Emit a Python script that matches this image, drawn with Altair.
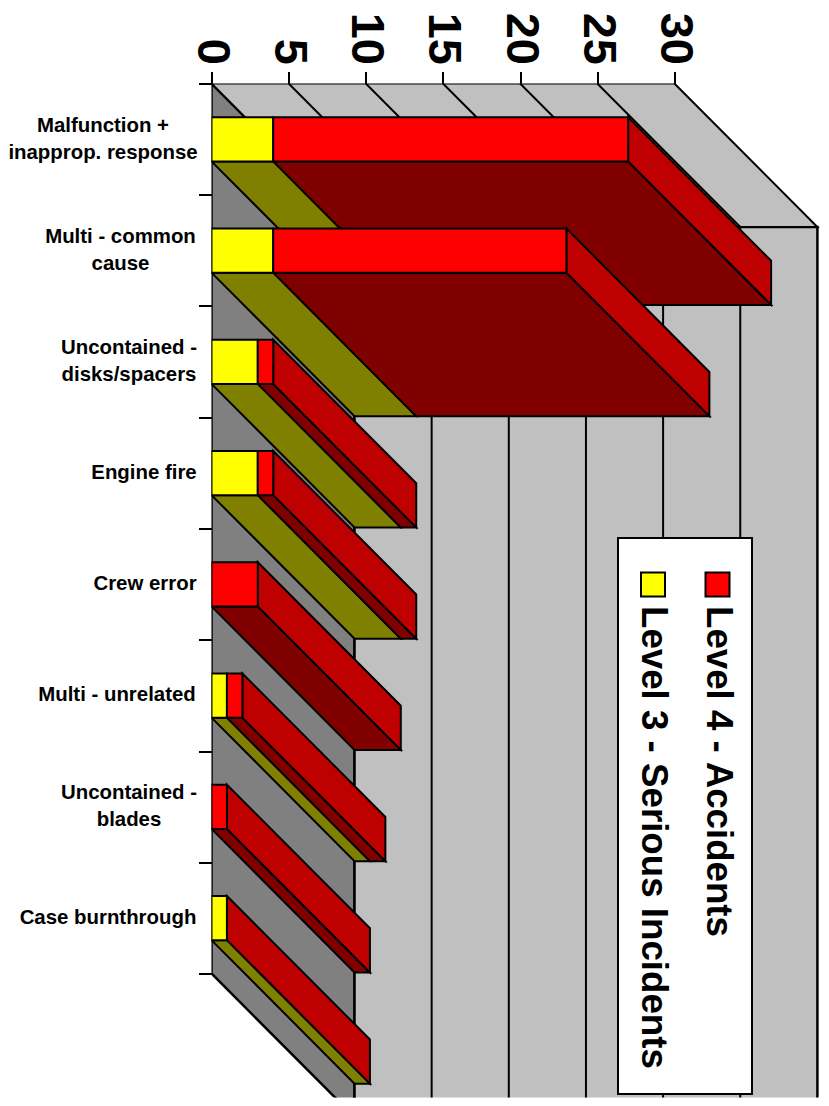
import altair as alt
import pandas as pd

categories = ["Malfunction +\ninapprop. response", "Multi - common\ncause", "Uncontained -\ndisks/spacers",
              "Engine fire", "Crew error", "Multi - unrelated", "Uncontained -\nblades", "Case burnthrough"]
level3 = [4, 4, 3, 3, 0, 1, 0, 1]
level4 = [23, 19, 1, 1, 3, 1, 1, 0]
x_ticks = [0, 5, 10, 15, 20, 25, 30]
legend_labels = ["Level 4 - Accidents", "Level 3 - Serious Incidents"]
label_centres = [103, 120.5, 129, 144, 145, 117, 129, 108]

X0, Y0 = 211.5, 83.5
PX, PY = 15.43, 111.25
W, H = 609, 1014
DX, DY = 143 / PX, 143.5 / PY
XMAX, YMAX = W / PX, H / PY
XAXIS = 30
NROW = len(categories)
GAP = 0.303
BARH = 0.397
FONT = "Liberation Sans"
BLACK = "#000000"
SW = 2
LINE_H = 27

xs = alt.Scale(domain=[0, XMAX], nice=False, zero=False)
ys = alt.Scale(domain=[0, YMAX], nice=False, zero=False, reverse=True)
XAX = alt.Axis(orient="top", values=x_ticks, domain=False, grid=False, labelAngle=90,
               labelAlign="right", labelBaseline="middle", labelFont=FONT,
               labelFontWeight="bold", labelFontSize=47, labelColor=BLACK, labelPadding=7,
               tickSize=12, tickWidth=SW, tickColor=BLACK, labelOverlap=False, title=None)
YAX = alt.Axis(orient="left", values=list(range(NROW + 1)), domain=False, grid=False,
               labels=False, tickSize=13, tickWidth=SW, tickColor=BLACK, title=None)

def X(f):
    return alt.X(f, type="quantitative", scale=xs, axis=XAX)

def Y(f):
    return alt.Y(f, type="quantitative", scale=ys, axis=YAX)

# walls
left_wall = pd.DataFrame({"x": [0, DX], "y": [0, DY], "y2": [NROW, NROW + DY]})
top_wall = pd.DataFrame({"y": [0, DY], "x": [0, DX], "x2": [XAXIS, XAXIS + DX]})
back_wall = pd.DataFrame({"x": [DX], "x2": [XAXIS + DX], "y": [DY], "y2": [YMAX + 1]})
grid_rows = []
for v in x_ticks[1:-1]:
    grid_rows += [{"v": v, "k": 0, "x": v, "y": 0}, {"v": v, "k": 1, "x": v + DX, "y": DY},
                  {"v": v, "k": 2, "x": v + DX, "y": YMAX + 1}]
grid = pd.DataFrame(grid_rows)

# bars
floors, sides, fronts = [], [], []
for i, (a, b) in enumerate(zip(level3, level4)):
    top, bot = i + GAP, i + GAP + BARH
    total = a + b
    for name, start, val, fc, fl in [("l3", 0, a, "#ffff00", "#808000"), ("l4", a, b, "#ff0000", "#800000")]:
        if val <= 0:
            continue
        fronts.append({"x": start, "x2": start + val, "y": top, "y2": bot, "fill": fc})
        for t in (0, 1):
            floors.append({"id": f"{i}{name}", "y": bot + t * DY, "x": start + t * DX,
                           "x2": start + val + t * DX, "fill": fl})
    for t in (0, 1):
        sides.append({"id": i, "x": total + t * DX, "y": top + t * DY, "y2": bot + t * DY, "fill": "#bf0000"})
floors, sides, fronts = pd.DataFrame(floors), pd.DataFrame(sides), pd.DataFrame(fronts)

labels = pd.DataFrame({
    "label": categories,
    "y": [i + 0.5 - c.count("\n") * LINE_H / 2 / PY for i, c in enumerate(categories)],
    "x": [(c - X0) / PX for c in label_centres],
})

wall_l = alt.Chart(left_wall).mark_area(orient="vertical", fill="#808080", stroke=BLACK, strokeWidth=SW + 0.5,
                                        clip=True, opacity=1).encode(
    x=X("x"), y=Y("y"), y2="y2")
wall_b = alt.Chart(back_wall).mark_rect(fill="#c0c0c0", stroke=BLACK, strokeWidth=SW + 0.5, clip=True).encode(
    x=X("x"), x2="x2", y=Y("y"), y2="y2")
wall_t = alt.Chart(top_wall).mark_area(orient="horizontal", fill="#c0c0c0", stroke=BLACK, strokeWidth=SW,
                                       clip=True, opacity=1).encode(
    x=X("x"), x2="x2", y=Y("y"))
grid_l = alt.Chart(grid).mark_line(color=BLACK, strokeWidth=SW, clip=True).encode(
    x=X("x"), y=Y("y"), detail="v:N", order="k:Q")

floor_l = alt.Chart(floors).mark_area(orient="horizontal", stroke=BLACK, strokeWidth=SW, opacity=1, clip=True).encode(
    x=X("x"), x2="x2", y=Y("y"), detail="id:N", color=alt.Color("fill:N", scale=None))
side_l = alt.Chart(sides).mark_area(orient="vertical", stroke=BLACK, strokeWidth=SW, opacity=1, clip=True).encode(
    x=X("x"), y=Y("y"), y2="y2", detail="id:N", color=alt.Color("fill:N", scale=None))
front_l = alt.Chart(fronts).mark_rect(stroke=BLACK, strokeWidth=SW, opacity=1, clip=True).encode(
    x=X("x"), x2="x2", y=Y("y"), y2="y2", color=alt.Color("fill:N", scale=None))

text_l = alt.Chart(labels).mark_text(font=FONT, fontWeight="bold", fontSize=20.4, lineHeight=LINE_H, align="center",
                                     baseline="middle", lineBreak="\n", color=BLACK).encode(
    x=X("x"), y=Y("y"), text="label:N")

# legend
one = pd.DataFrame({"a": [0]})
def px(v):
    return alt.value(v - X0)
def py(v):
    return alt.value(v - Y0)

leg = [alt.Chart(one).mark_rect(fill="#ffffff", stroke=BLACK, strokeWidth=SW).encode(
    x=px(618), x2=px(752), y=py(538), y2=py(1094))]
for lab, col, sx, tx in [(legend_labels[0], "#ff0000", 705.5, 718), (legend_labels[1], "#ffff00", 641, 653)]:
    leg.append(alt.Chart(one).mark_rect(fill=col, stroke=BLACK, strokeWidth=SW).encode(
        x=px(sx), x2=px(sx + 24), y=py(572.5), y2=py(596.5)))
    leg.append(alt.Chart(pd.DataFrame({"t": [lab]})).mark_text(
        font=FONT, fontWeight="bold", fontSize=36.7, angle=90, align="left", baseline="middle", color=BLACK).encode(
        x=px(tx), y=py(606), text="t:N"))

chart = alt.layer(wall_l, wall_b, wall_t, grid_l, floor_l, side_l, front_l, text_l, *leg).properties(
    width=W, height=H, background="#ffffff",
    autosize=alt.AutoSizeParams(type="none"),
    padding={"left": X0 - 8, "top": Y0 - 8, "right": 0, "bottom": 0},
).configure_view(strokeWidth=0)

chart.save("out.html", embed_options={"renderer": "svg", "actions": False})
